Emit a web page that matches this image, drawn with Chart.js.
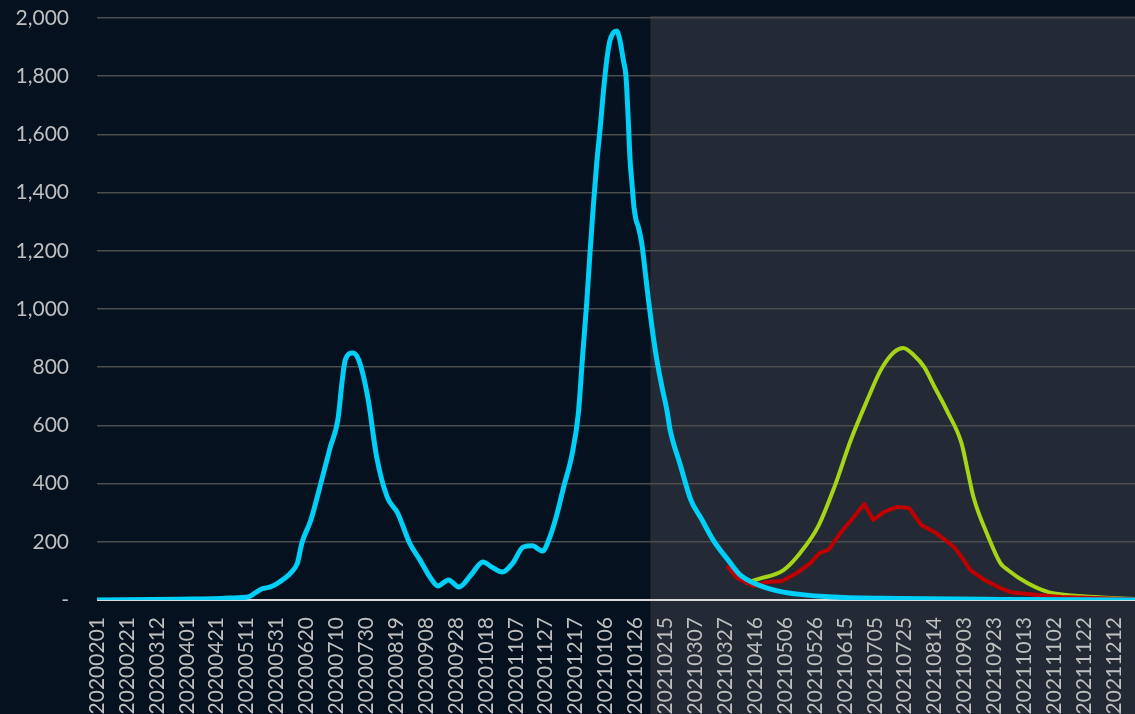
<!DOCTYPE html>
<html>
<head>
<meta charset="utf-8">
<script src="https://cdn.jsdelivr.net/npm/chart.js@4"></script>
<style>
  html, body { margin: 0; padding: 0; background: #05111f; overflow: hidden; }
  #wrap { width: 1135px; height: 714px; position: relative; }
</style>
</head>
<body>
<div id="wrap"><canvas id="grafico"></canvas></div>
<script>
// day offsets are counted from 2020-02-01
const tickStep = 20;
const tickLabels = [
  "20200201", "20200221", "20200312", "20200401", "20200421", "20200511", "20200531",
  "20200620", "20200710", "20200730", "20200819", "20200908", "20200928", "20201018",
  "20201107", "20201127", "20201217", "20210106", "20210126", "20210215", "20210307",
  "20210327", "20210416", "20210506", "20210526", "20210615", "20210705", "20210725",
  "20210814", "20210903", "20210923", "20211013", "20211102", "20211122", "20211212"
];
const lastDay = 694;
const shadeStartDay = 370;

// observed series (blue)
const blueDays = [0, 55, 82, 89, 101, 106, 110, 116, 122, 130, 134, 137, 143, 149, 156, 161, 164, 166,
  171, 175, 181, 187, 194, 201, 209, 216, 223, 228, 235, 242, 250, 258, 264, 271, 278, 285, 291, 298,
  302, 307, 312, 317.6, 321.8, 324.7, 327.4, 329.6, 331.8, 334.1, 336.3, 338.5, 340.8, 343, 345.2,
  347.4, 349.6, 351.9, 353.7, 355.2, 356.4, 357.5, 359, 360.4, 361.9, 364.2, 366.4, 368.7, 371,
  374.3, 377.7, 381, 383.2, 390, 397, 404, 412, 422, 430, 442, 459, 493, 537, 604, 694];
const blueValues = [0, 3, 5, 7, 10, 25, 38, 45, 62, 96, 127, 196, 275, 388, 526, 618, 756, 825,
  849, 825, 698, 491, 354, 299, 196, 137, 76, 48, 69, 45, 86, 131, 113, 96, 127, 182, 186, 168,
  206, 285, 388, 500, 640, 840, 1020, 1192, 1351, 1501, 1615, 1742, 1855, 1924, 1949,
  1955, 1924, 1855, 1798, 1649, 1512, 1443, 1351, 1306, 1283, 1226, 1134, 1031, 939,
  825, 733, 653, 584, 464, 344, 280, 206, 137, 86, 52, 27, 10, 5, 2, 0];

// scenario (red)
const redDays = [422, 428, 439, 448, 458, 468, 477, 483, 489, 497, 506, 513, 519, 526, 535, 543, 551,
  560, 573, 578, 584, 593, 604, 611, 629, 645, 667, 694];
const redValues = [113, 76, 48, 62, 65, 93, 127, 161, 172, 230, 285, 330, 275, 302, 320, 316, 258,
  234, 182, 148, 103, 70, 41, 27, 17, 10, 7, 3];

// scenario (green)
const greenDays = [434, 442, 459, 470, 482, 493, 504, 515, 524, 533, 539, 546, 553, 560, 569, 578,
  582, 586, 596, 604, 609, 622, 636, 656, 680, 694];
const greenValues = [60, 72, 103, 161, 251, 388, 550, 687, 790, 852, 866, 842, 801, 732, 643, 539,
  447, 354, 216, 127, 103, 58, 27, 14, 7, 3];

function pontos(dias, valores) {
  return dias.map((d, i) => ({ x: d, y: valores[i] }));
}

// fundo escuro + faixa cinza a partir de shadeStartDay
const fundo = {
  id: "fundo",
  beforeDraw(chart) {
    const { ctx, chartArea, scales } = chart;
    ctx.save();
    ctx.fillStyle = "#05111f";
    ctx.fillRect(0, 0, chart.width, chart.height);
    const x0 = scales.x.getPixelForValue(shadeStartDay);
    ctx.fillStyle = "#232a35";
    ctx.fillRect(x0, chartArea.top - 2, chart.width - x0, chart.height);
    ctx.restore();
  }
};

Chart.defaults.font.family = "Lato";
Chart.defaults.font.size = 21;
Chart.defaults.color = "#bfbfbf";

new Chart(document.getElementById("grafico"), {
  type: "line",
  data: {
    datasets: [
      {
        data: pontos(blueDays, blueValues),
        borderColor: "#00cff7",
        borderWidth: 5,
        cubicInterpolationMode: "monotone",
        pointRadius: 0,
        borderCapStyle: "round",
        borderJoinStyle: "round"
      },
      {
        data: pontos(redDays, redValues),
        borderColor: "#c00000",
        borderWidth: 4,
        tension: 0,
        pointRadius: 0,
        borderCapStyle: "round",
        borderJoinStyle: "round"
      },
      {
        data: pontos(greenDays, greenValues),
        borderColor: "#a6d517",
        borderWidth: 4,
        cubicInterpolationMode: "monotone",
        pointRadius: 0,
        borderCapStyle: "round",
        borderJoinStyle: "round"
      }
    ]
  },
  options: {
    responsive: true,
    maintainAspectRatio: false,
    animation: false,
    devicePixelRatio: 1,
    layout: { padding: { top: 18, left: 0, right: 0, bottom: 0 } },
    plugins: {
      legend: { display: false },
      tooltip: { enabled: false }
    },
    scales: {
      x: {
        type: "linear",
        min: 0,
        max: lastDay,
        grid: { display: false, drawTicks: false },
        border: { display: false },
        afterBuildTicks: s => {
          s.ticks = tickLabels.map((_, i) => ({ value: i * tickStep }));
        },
        afterFit: s => {
          s.height = 114;
          s.paddingLeft = 0;
          s.paddingRight = 0;
        },
        ticks: {
          autoSkip: false,
          maxRotation: 90,
          minRotation: 90,
          padding: 17,
          callback: v => tickLabels[Math.round(v / tickStep)] || ""
        }
      },
      y: {
        min: 0,
        max: 2000,
        afterFit: s => {
          s.width = 97;
          s.paddingTop = 0;
          s.paddingBottom = 0;
        },
        grid: {
          drawTicks: false,
          color: c => (c.tick.value === 0 ? "#d9d9d9" : "#4d4d4d"),
          lineWidth: c => (c.tick.value === 0 ? 2 : 1.5)
        },
        border: { display: false },
        ticks: {
          stepSize: 200,
          padding: 28,
          callback: v => (v === 0 ? "-" : v.toLocaleString("en-US"))
        }
      }
    }
  },
  plugins: [fundo]
});
</script>
</body>
</html>
